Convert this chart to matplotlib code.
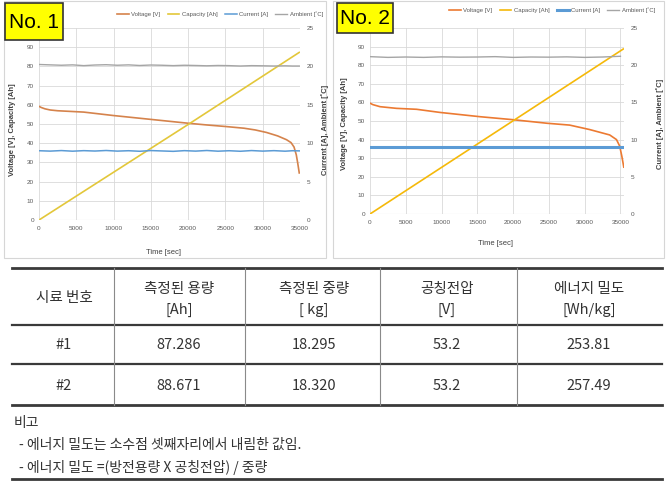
import numpy as np
import matplotlib
matplotlib.use('Agg')
import matplotlib.pyplot as plt
from matplotlib.patches import Rectangle

W, H = 667, 486
plt.rcParams['font.family'] = ['Liberation Sans', 'Noto Sans CJK KR', 'DejaVu Sans']
KR = ['Noto Sans CJK KR', 'DejaVu Sans']

# ---- chart No. 1 data
t1_volt = [0, 300, 800, 1500, 2500, 4000, 6000, 8000, 10000, 12500, 15000, 17500, 20000,
           22500, 25000, 27500, 29000, 30500, 32000, 33200, 33800, 34200, 34500, 34700, 34900]
volt1 = [59.2, 58.6, 57.9, 57.3, 56.9, 56.6, 56.2, 55.3, 54.4, 53.4, 52.4, 51.4, 50.4,
         49.5, 48.7, 47.8, 46.9, 45.6, 43.8, 41.8, 40.3, 38.0, 34.0, 29.5, 24.5]
t1_cap = [0, 20300, 34900]
cap1 = [0, 50.5, 87.3]
t1_env = [0, 1500, 3000, 4500, 6000, 7500, 9000, 10500, 12000, 13500, 15000, 16500, 18000,
          19500, 21000, 22500, 24000, 25500, 27000, 28500, 30000, 31500, 33000, 34000, 34900]
cur1 = [9.02, 8.97, 9.04, 8.96, 9.03, 8.98, 9.05, 8.97, 9.02, 8.95, 9.04, 8.99, 8.94,
        9.03, 8.97, 9.05, 8.96, 9.02, 8.95, 9.04, 8.97, 9.03, 8.96, 9.02, 9.00]
amb1 = [20.25, 20.20, 20.15, 20.20, 20.10, 20.18, 20.22, 20.15, 20.20, 20.12, 20.18, 20.15, 20.10,
        20.15, 20.12, 20.08, 20.12, 20.10, 20.05, 20.10, 20.08, 20.05, 20.08, 20.05, 20.05]

# ---- chart No. 2 data
t2_volt = [0, 400, 1400, 3700, 6500, 9800, 15400, 20000, 24700, 27900, 30700, 33500,
           34450, 34900, 35200, 35470]
volt2 = [59.6, 58.8, 57.7, 56.8, 56.3, 54.6, 52.3, 50.7, 48.8, 47.8, 45.4, 42.5,
         40.0, 36.5, 31.0, 25.2]
t2_cap = [0, 35400]
cap2 = [0, 88.7]
t2_cur = [0, 35470]
cur2 = [9.0, 9.0]
t2_amb = [0, 2500, 5000, 7500, 10000, 12500, 15000, 17500, 20000, 22500, 25000, 27500,
          30000, 32500, 35000]
amb2 = [21.15, 21.05, 21.10, 21.05, 21.12, 21.08, 21.10, 21.15, 21.05, 21.10, 21.08, 21.12,
        21.05, 21.10, 21.20]

series_names = ['Voltage [V]', 'Capacity [Ah]', 'Current [A]', 'Ambient [˚C]']

# ---- table data
col_head_top = ['시료 번호', '측정된 용량', '측정된 중량', '공칭전압', '에너지 밀도']
col_head_unit = ['', '[Ah]', '[ kg]', '[V]', '[Wh/kg]']
sample_ids = ['#1', '#2']
capacity_ah = ['87.286', '88.671']
weight_kg = ['18.295', '18.320']
nominal_v = ['53.2', '53.2']
energy_density = ['253.81', '257.49']
note_title = '비고'
notes = ['- 에너지 밀도는 소수점 셋째자리에서 내림한 값임.',
         '- 에너지 밀도 =(방전용량 X 공칭전압) / 중량']


def box(x0, y0, x1, y1):
    return [x0 / W, 1 - y1 / H, (x1 - x0) / W, (y1 - y0) / H]


fig = plt.figure(figsize=(W / 100, H / 100), dpi=100)
fig.patch.set_facecolor('white')

bg = fig.add_axes([0, 0, 1, 1], zorder=0)
bg.set_xlim(0, W); bg.set_ylim(H, 0); bg.axis('off')
bg.add_patch(Rectangle((4, 1), 322, 257, fill=False, ec='#D6D6D6', lw=0.8))
bg.add_patch(Rectangle((333, 1), 331, 257, fill=False, ec='#D6D6D6', lw=0.8))


def chart(rect, xmax, t_v, v, t_c, c, t_i, i, t_a, a, colors, cur_lw, leg_xy):
    ax = fig.add_axes(box(*rect), zorder=1)
    ax.set_facecolor('none')
    ax2 = ax.twinx()
    ax.set_xlim(0, xmax)
    ax.set_ylim(0, 100)
    ax2.set_ylim(0, 25)
    ax.set_yticks(np.arange(0, 101, 10))
    ax.set_yticklabels([str(k) if k < 100 else '' for k in range(0, 101, 10)])
    ax2.set_yticks(np.arange(0, 26, 5))
    ax.set_xticks(np.arange(0, 35001, 5000))
    ax.grid(True, color='#D9D9D9', lw=0.6)
    for a_ in (ax, ax2):
        for s in a_.spines.values():
            s.set_visible(False)
        a_.tick_params(length=0, labelsize=4.6, colors='#595959')
    ax.tick_params(axis='x', pad=4.5)
    ax.tick_params(axis='y', pad=3.5)
    ax2.tick_params(axis='y', pad=5)
    ax.axhline(0, color='#D0D0D0', lw=0.8)
    h1, = ax.plot(t_v, v, color=colors[0], lw=1.2, zorder=3)
    h2, = ax.plot(t_c, c, color=colors[1], lw=1.2, zorder=3)
    h3, = ax2.plot(t_i, i, color=colors[2], lw=cur_lw, zorder=3)
    h4, = ax2.plot(t_a, a, color=colors[3], lw=1.0, zorder=3)
    fig.legend([h1, h2, h3, h4], series_names, ncol=4, loc='center',
               bbox_to_anchor=(leg_xy[0] / W, 1 - leg_xy[1] / H), frameon=False,
               fontsize=4.3, handlelength=2.0, handletextpad=0.4, columnspacing=1.2,
               labelcolor='#595959', borderpad=0.1)
    return ax


chart((39, 28, 300, 220), 35000, t1_volt, volt1, t1_cap, cap1, t1_env, cur1, t1_env, amb1,
      ['#D5834C', '#E3C73A', '#5B9BD5', '#A5A5A5'], 1.1, (220, 14))
chart((370, 28, 624, 214), 35500, t2_volt, volt2, t2_cap, cap2, t2_cur, cur2, t2_amb, amb2,
      ['#EC7A32', '#F5B90A', '#5B9BD5', '#A5A5A5'], 2.2, (552, 10))

fg = fig.add_axes([0, 0, 1, 1], zorder=5)
fg.set_facecolor('none')
fg.set_xlim(0, W); fg.set_ylim(H, 0); fg.axis('off')

# axis titles
lab = dict(fontsize=5.5, color='#404040', ha='center', va='center')
fg.text(13, 130, 'Voltage [V], Capacity [Ah]', rotation=90, fontweight='bold', **lab)
fg.text(325, 130, 'Current [A], Ambient [˚C]', rotation=90, fontweight='bold', **lab)
fg.text(163, 252, 'Time [sec]', **lab)
fg.text(345, 124, 'Voltage [V], Capacity [Ah]', rotation=90, fontweight='bold', **lab)
fg.text(660, 124, 'Current [A], Ambient [˚C]', rotation=90, fontweight='bold', **lab)
fg.text(496, 243, 'Time [sec]', **lab)

# "No." badges
for (x0, y0, x1, y1), txt in [((5, 3, 63, 40), 'No. 1'), ((337, 3, 393, 33), 'No. 2')]:
    fg.add_patch(Rectangle((x0, y0), x1 - x0, y1 - y0, fc='#FFFF00', ec='#333333', lw=1.2))
    fg.text((x0 + x1) / 2, (y0 + y1) / 2 + 1, txt, fontsize=15, ha='center', va='center',
            color='black')

# table
col_x = [64, 179, 314, 447, 589]
sep_x = [114, 245, 380, 517]
t_left, t_right = 12, 662
y_top, y_head, y_r1, y_bot = 268, 325, 364, 405
for y, lw in [(y_top, 2.0), (y_head, 1.6), (y_r1, 1.6), (y_bot, 2.0)]:
    fg.plot([t_left, t_right], [y, y], color='#3A3A3A', lw=lw)
for x in sep_x:
    fg.plot([x, x], [y_top, y_bot], color='#8A8A8A', lw=0.8)
txt = dict(fontsize=10.5, color='#333333', ha='center', va='center', family=KR)
for k, cx in enumerate(col_x):
    if col_head_unit[k]:
        fg.text(cx, 289, col_head_top[k], **txt)
        fg.text(cx, 310, col_head_unit[k], **txt)
    else:
        fg.text(cx, 298, col_head_top[k], **txt)
rows = list(zip(sample_ids, capacity_ah, weight_kg, nominal_v, energy_density))
for r, ry in zip(rows, [345, 386]):
    for cx, val in zip(col_x, r):
        fg.text(cx, ry, val, **txt)

# notes
fg.text(14, 423, note_title, fontsize=10, color='#333333', ha='left', va='center', family=KR)
fg.text(19, 445, notes[0], fontsize=10, color='#333333', ha='left', va='center', family=KR)
fg.text(19, 467, notes[1], fontsize=10, color='#333333', ha='left', va='center', family=KR)
fg.plot([t_left, t_right], [479, 479], color='#3A3A3A', lw=2.0)

fig.savefig('out.png', dpi=100)
